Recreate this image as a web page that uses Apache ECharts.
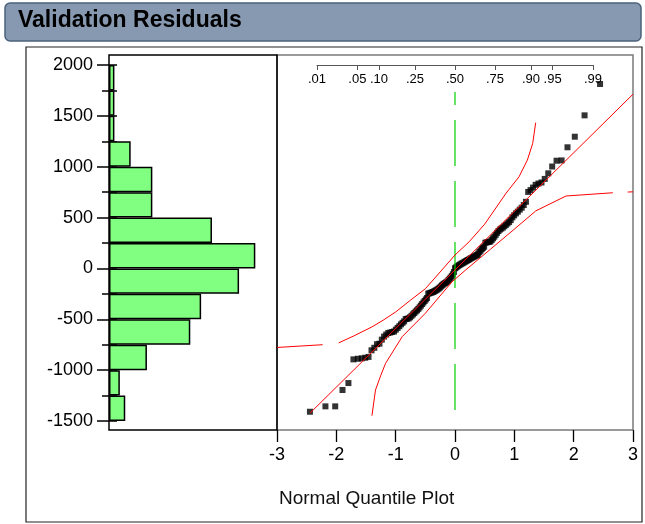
<!DOCTYPE html>
<html><head><meta charset="utf-8">
<script src="https://cdn.jsdelivr.net/npm/echarts@6/dist/echarts.min.js"></script>
<style>html,body{margin:0;padding:0;background:#fff}#c{width:645px;height:524px}</style>
</head><body><div id="c"></div>
<script>
// ---------- data ----------
const titleText = 'Validation Residuals';
const xAxisTitle = 'Normal Quantile Plot';
const binLower = [-1500,-1250,-1000,-750,-500,-250,0,250,500,750,1000,1250,1500,1750];
const histCounts = [3,2,7,15,17,24,27,19,8,8,4,1,1,1];
const residuals = [
 -1409,-1356,-1356,-1195,-1127,-894,-888,-884,-878,-870,
 -805,-780,-745,-740,-700,-670,-650,-635,-630,-625,
 -620,-602,-585,-568,-550,-535,-520,-498,-495,-491,
 -480,-466,-452,-438,-424,-412,-398,-383,-366,-350,
 -335,-320,-305,-290,-248,-244,-240,-236,-232,-226,
 -220,-213,-206,-198,-189,-178,-167,-158,-150,-143,
 -136,-128,-115,-102,-90,-76,-58,-35,2,10,
 18,26,33,40,46,52,58,65,71,77,
 83,89,96,102,108,114,120,126,132,145,
 162,175,190,202,214,252,256,260,262,265,
 280,296,312,330,350,368,382,392,402,415,
 428,442,456,475,502,522,541,558,578,597,
 623,655,752,770,795,822,835,845,880,935,
 1002,1059,1062,1191,1295,1505,1813
];
const probLabels = ['.01','.05','.10','.25','.50','.75','.90','.95','.99'];
const probValues = [0.01,0.05,0.10,0.25,0.50,0.75,0.90,0.95,0.99];
const fitMean = -15, fitSd = 576;
const upperBandA = [[-3,-777],[-2.23,-750]];
const upperBandB = [[-1.96,-732],[-1.7,-662],[-1.4,-575],[-1.2,-505],[-1.0,-428],[-0.75,-312],[-0.5,-200],[-0.22,-15],[0,132],[0.24,263],[0.5,435],[0.86,739],[1.08,902],[1.22,1066],[1.31,1230],[1.36,1433]];
const lowerBandA = [[-1.40,-1448],[-1.34,-1195],[-1.25,-1050],[-1.17,-933],[-1.0,-774],[-0.89,-671],[-0.5,-441],[-0.05,-131],[0.18,-15],[0.6,190],[1.0,386],[1.36,565],[1.87,712],[2.66,744]];
const lowerBandB = [[2.91,751],[3,753]];
const centerLine = [[0,-1392],[0,1735]];

// ---------- helpers ----------
function probit(p){
 const a=[-3.969683028665376e+01,2.209460984245205e+02,-2.759285104469687e+02,1.383577518672690e+02,-3.066479806614716e+01,2.506628277459239e+00];
 const b=[-5.447609879822406e+01,1.615858368580409e+02,-1.556989798598866e+02,6.680131188771972e+01,-1.328068155288572e+01];
 const c=[-7.784894002430293e-03,-3.223964580411365e-01,-2.400758277161838e+00,-2.549732539343734e+00,4.374664141464968e+00,2.938163982698783e+00];
 const d=[7.784695709041462e-03,3.224671290700398e-01,2.445134137142996e+00,3.754408661907416e+00];
 const pl=0.02425, ph=1-pl; let q,r;
 if(p<pl){q=Math.sqrt(-2*Math.log(p));return (((((c[0]*q+c[1])*q+c[2])*q+c[3])*q+c[4])*q+c[5])/((((d[0]*q+d[1])*q+d[2])*q+d[3])*q+1);}
 if(p<=ph){q=p-0.5;r=q*q;return (((((a[0]*r+a[1])*r+a[2])*r+a[3])*r+a[4])*r+a[5])*q/(((((b[0]*r+b[1])*r+b[2])*r+b[3])*r+b[4])*r+1);}
 q=Math.sqrt(-2*Math.log(1-p));return -(((((c[0]*q+c[1])*q+c[2])*q+c[3])*q+c[4])*q+c[5])/((((d[0]*q+d[1])*q+d[2])*q+d[3])*q+1);
}
const n = residuals.length;
const qqPoints = residuals.map((v,i)=>[probit((i+1)/(n+1)), v]);
const xFitStart = qqPoints[0][0];
const fitLine = [[xFitStart, fitMean+fitSd*xFitStart],[3, fitMean+fitSd*3]];
const probZ = probValues.map(probit);
const zMax = probZ[probZ.length-1];

// ---------- layout ----------
const FONT = 'Liberation Sans, Arial, sans-serif';
const qq = {left:277, top:65, width:356, height:356};
const probLeft = qq.left + (3 - zMax)/6*qq.width;
const probWidth = 2*zMax/6*qq.width;

const chart = echarts.init(document.getElementById('c'), null, {renderer:'canvas'});
const hiddenAxis = (g)=>({gridIndex:g, type:'value', show:false, min:0, max:1});
chart.setOption({
 animation:false,
 textStyle:{fontFamily:FONT},
 title:[
  {text:titleText, left:18, top:9, padding:0, textStyle:{fontFamily:FONT, fontWeight:'bold', fontSize:23, color:'#000'}},
  {text:xAxisTitle, left:279, top:489, padding:0, textStyle:{fontFamily:FONT, fontWeight:'normal', fontSize:19, color:'#111'}}
 ],
 graphic:[
  {type:'rect', z:-10, shape:{x:5,y:3,width:636,height:38,r:5}, style:{fill:'#8799B1', stroke:'#4C617B', lineWidth:1.5}},
  {type:'rect', z:-10, shape:{x:26,y:47,width:616,height:475}, style:{fill:'none', stroke:'#222', lineWidth:1.2}}
 ],
 grid:[
  {left:277, top:55, width:356, height:375, show:true, borderColor:'#7a7a7a', borderWidth:1.5, backgroundColor:'transparent'},
  {left:109, top:55, width:168, height:375, show:true, borderColor:'#000', borderWidth:1.5, backgroundColor:'transparent'},
  {left:109, top:65, width:168, height:356},
  {left:qq.left, top:qq.top, width:qq.width, height:qq.height},
  {left:probLeft, top:qq.top, width:probWidth, height:qq.height}
 ],
 xAxis:[
  hiddenAxis(0), hiddenAxis(1),
  {gridIndex:2, type:'value', min:0, max:31, show:false},
  {gridIndex:3, type:'value', min:-3, max:3, interval:1, position:'bottom', offset:9,
   axisLine:{show:false, onZero:false}, splitLine:{show:false},
   axisTick:{show:true, length:12, lineStyle:{color:'#000', width:1.3}},
   axisLabel:{show:true, fontSize:18, color:'#000', margin:16, showMinLabel:true, showMaxLabel:true}},
  {gridIndex:4, type:'value', min:-zMax, max:zMax, position:'top',
   axisLine:{show:true, onZero:false, lineStyle:{color:'#555', width:1}}, splitLine:{show:false},
   axisTick:{show:true, inside:true, length:5, customValues:probZ, lineStyle:{color:'#555', width:1}},
   axisLabel:{show:true, inside:true, margin:8, fontSize:13, color:'#000', customValues:probZ,
    formatter:(v)=>{let best=0,bd=1e9;probZ.forEach((z,i)=>{const dd=Math.abs(z-v);if(dd<bd){bd=dd;best=i;}});return probLabels[best];}}}
 ],
 yAxis:[
  hiddenAxis(0), hiddenAxis(1),
  {gridIndex:2, type:'category', data:binLower.map(String), show:false, boundaryGap:true},
  {gridIndex:2, type:'value', min:-1500, max:2000, interval:500, position:'left',
   axisLine:{show:false, onZero:false}, splitLine:{show:false},
   axisTick:{show:true, length:12, lineStyle:{color:'#000', width:1.5}},
   axisLabel:{show:true, fontSize:18, color:'#000', margin:16, formatter:(v)=>String(v)}},
  {gridIndex:2, type:'value', min:-1500, max:2000, interval:250, position:'left',
   axisLine:{show:false, onZero:false}, splitLine:{show:false}, axisLabel:{show:false},
   axisTick:{show:true, inside:true, length:8, lineStyle:{color:'#000', width:1.5}}},
  {gridIndex:2, type:'value', min:-1500, max:2000, interval:250, position:'left',
   axisLine:{show:false, onZero:false}, splitLine:{show:false}, axisLabel:{show:false},
   axisTick:{show:true, length:7, lineStyle:{color:'#000', width:1.5}}},
  {gridIndex:3, type:'value', min:-1500, max:2000, show:false},
  hiddenAxis(4)
 ],
 series:[
  {type:'bar', xAxisIndex:2, yAxisIndex:2, data:histCounts, barWidth:'100%', barCategoryGap:0, silent:true,
   itemStyle:{color:'#80FF80', borderColor:'#000', borderWidth:1.5}},
  {type:'scatter', xAxisIndex:3, yAxisIndex:6, data:qqPoints, symbol:'rect', symbolSize:6, silent:true,
   itemStyle:{color:'#000'}, z:2},
  {type:'line', xAxisIndex:3, yAxisIndex:6, data:centerLine, symbol:'none', silent:true,
   lineStyle:{color:'#00D000', width:1.2, type:[46,15]}, z:3},
  {type:'line', xAxisIndex:3, yAxisIndex:6, data:fitLine, symbol:'none', silent:true, lineStyle:{color:'#FF0000', width:1}, z:4},
  {type:'line', xAxisIndex:3, yAxisIndex:6, data:upperBandA, symbol:'none', silent:true, lineStyle:{color:'#FF0000', width:1}, z:4},
  {type:'line', xAxisIndex:3, yAxisIndex:6, data:upperBandB, symbol:'none', silent:true, lineStyle:{color:'#FF0000', width:1}, z:4},
  {type:'line', xAxisIndex:3, yAxisIndex:6, data:lowerBandA, symbol:'none', silent:true, lineStyle:{color:'#FF0000', width:1}, z:4},
  {type:'line', xAxisIndex:3, yAxisIndex:6, data:lowerBandB, symbol:'none', silent:true, lineStyle:{color:'#FF0000', width:1}, z:4}
 ]
});
</script></body></html>
